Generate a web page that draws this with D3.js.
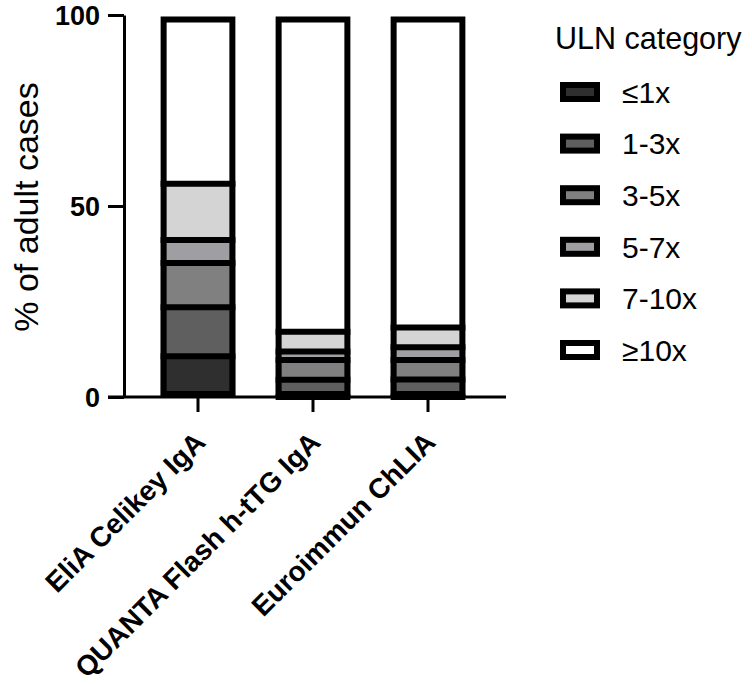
<!DOCTYPE html>
<html>
<head>
<meta charset="utf-8">
<script src="https://cdn.jsdelivr.net/npm/d3@7"></script>
<style>
  body { margin: 0; background: #fff; }
  text { font-family: "Liberation Sans", Arial, sans-serif; }
</style>
</head>
<body>
<div id="chart"></div>
<script>
// assays on the x axis
const assays = ["EliA Celikey IgA", "QUANTA Flash h-tTG IgA", "Euroimmun ChLIA"];
// ULN categories, bottom to top
const categories = ["\u22641x", "1-3x", "3-5x", "5-7x", "7-10x", "\u226510x"];
const colors = ["#2f2f2f", "#5f5f5f", "#808080", "#9f9fa3", "#d4d4d4", "#ffffff"];
// % of adult cases per category, one array per category (order = assays)
const le1x   = [10.7, 0, 0];
const x1to3  = [12.8, 4.5, 4.6];
const x3to5  = [11.6, 5.2, 5.1];
const x5to7  = [6.0, 2.2, 3.3];
const x7to10 = [14.7, 5.2, 5.2];
const ge10x  = [44.2, 82.9, 81.8];
const yTicks = [0, 50, 100];

const series = [le1x, x1to3, x3to5, x5to7, x7to10, ge10x];
const table = assays.map((a, i) => {
  const row = { assay: a };
  categories.forEach((c, j) => row[c] = series[j][i]);
  return row;
});

const width = 752, height = 684;
const svg = d3.select("#chart").append("svg")
  .attr("width", width).attr("height", height);

const x = d3.scaleBand()
  .domain(assays)
  .range([140.5, 485.5])
  .paddingInner(0.35)
  .paddingOuter(0.175);

const y = d3.scaleLinear()
  .domain([0, 100])
  .range([397, 15]);

const stacked = d3.stack().keys(categories)(table);
const color = d3.scaleOrdinal().domain(categories).range(colors);
const bw = 6;

// segment fills
svg.append("g").selectAll("g")
  .data(stacked)
  .join("g")
  .attr("fill", d => color(d.key))
  .selectAll("rect")
  .data(d => d)
  .join("rect")
  .attr("x", d => x(d.data.assay))
  .attr("y", d => y(d[1]))
  .attr("width", x.bandwidth())
  .attr("height", d => y(d[0]) - y(d[1]));

// lines between segments
svg.append("g").selectAll("g")
  .data(stacked.slice(0, -1))
  .join("g")
  .selectAll("line")
  .data(d => d)
  .join("line")
  .attr("x1", d => x(d.data.assay))
  .attr("x2", d => x(d.data.assay) + x.bandwidth())
  .attr("y1", d => y(d[1]))
  .attr("y2", d => y(d[1]))
  .attr("stroke", "#000")
  .attr("stroke-width", bw);

// outer border of each bar, drawn inside
svg.append("g").selectAll("rect")
  .data(assays)
  .join("rect")
  .attr("x", d => x(d) + bw / 2)
  .attr("y", y(100) + bw / 2 + 1.5)
  .attr("width", x.bandwidth() - bw)
  .attr("height", y(0) - y(100) - bw - 1.5)
  .attr("fill", "none")
  .attr("stroke", "#000")
  .attr("stroke-width", bw);

// y axis
const yAxis = svg.append("g")
  .attr("transform", "translate(124,0)")
  .call(d3.axisLeft(y).tickValues(yTicks).tickSize(16).tickSizeOuter(0).tickPadding(8));
yAxis.select(".domain").attr("stroke-width", 3);
yAxis.selectAll(".tick line").attr("stroke-width", 3);
yAxis.selectAll(".tick text")
  .attr("fill", "#000")
  .style("font-size", "27px")
  .style("font-weight", "bold")
  .attr("dy", "0.36em");

// x axis
const xAxis = svg.append("g")
  .attr("transform", `translate(0,${y(0)})`)
  .call(d3.axisBottom(x).tickSize(15).tickSizeOuter(0));
xAxis.select(".domain").remove();
xAxis.selectAll(".tick line").attr("stroke-width", 3);
xAxis.append("line")
  .attr("x1", 108).attr("x2", 506)
  .attr("stroke", "#000").attr("stroke-width", 3);
xAxis.selectAll(".tick text")
  .attr("fill", "#000")
  .style("font-size", "28px")
  .style("font-weight", "bold")
  .attr("text-anchor", "end")
  .attr("x", 0).attr("y", 0).attr("dy", 0)
  .attr("transform", "translate(9,47) rotate(-45)");

// y axis title
svg.append("text")
  .attr("transform", "translate(38,207) rotate(-90)")
  .attr("text-anchor", "middle")
  .style("font-size", "34px")
  .attr("fill", "#000")
  .text("% of adult cases");

// legend
const legend = svg.append("g").attr("transform", "translate(555,0)");
legend.append("text")
  .attr("x", 0).attr("y", 49)
  .style("font-size", "30.5px")
  .attr("fill", "#000")
  .text("ULN category");

const rowY = d3.scalePoint().domain(categories).range([92, 350]);
const items = legend.selectAll("g.item")
  .data(categories)
  .join("g")
  .attr("class", "item")
  .attr("transform", d => `translate(0,${rowY(d)})`);
items.append("rect")
  .attr("x", 8).attr("y", -7)
  .attr("width", 34).attr("height", 14)
  .attr("fill", d => color(d))
  .attr("stroke", "#000")
  .attr("stroke-width", 6);
items.append("text")
  .attr("x", 67).attr("y", 0)
  .attr("dy", "0.36em")
  .style("font-size", "30px")
  .attr("fill", "#000")
  .text(d => d);
</script>
</body>
</html>
